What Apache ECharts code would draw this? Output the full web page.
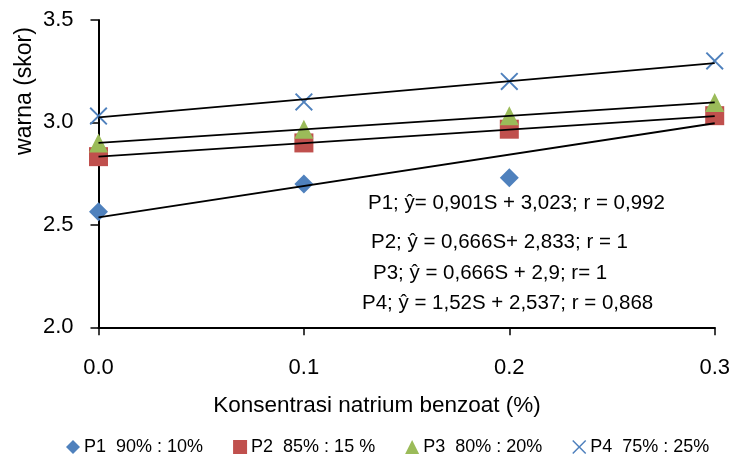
<!DOCTYPE html>
<html>
<head>
<meta charset="utf-8">
<script src="https://cdn.jsdelivr.net/npm/echarts@6/dist/echarts.min.js"></script>
<style>html,body{margin:0;padding:0;background:#fff}#c{width:733px;height:455px}</style>
</head>
<body>
<div id="c"></div>
<script>
// ---- data ----
const xValues = [0.0, 0.1, 0.2, 0.3];
const seriesNames = ['P1  90% : 10%', 'P2  85% : 15 %', 'P3  80% : 20%', 'P4  75% : 25%'];
const p1 = [2.564, 2.700, 2.730, 3.060];
const p2 = [2.833, 2.900, 2.967, 3.033];
const p3 = [2.900, 2.967, 3.033, 3.097];
const p4 = [3.031, 3.100, 3.200, 3.300];
// trendline values at S = 0.0 and S = 0.3
const trendX = [0.0, 0.3];
const trendStart = [2.537, 2.833, 2.900, 3.025];
const trendEnd = [2.996, 3.031, 3.098, 3.290];
const xTicks = [0.0, 0.1, 0.2, 0.3];
const yTicks = [2.0, 2.5, 3.0, 3.5];
const equations = [
  'P1; ŷ= 0,901S + 3,023; r = 0,992',
  'P2; ŷ = 0,666S+ 2,833; r = 1',
  'P3; ŷ = 0,666S + 2,9; r= 1',
  'P4; ŷ = 1,52S + 2,537; r = 0,868'
];
const xTitle = 'Konsentrasi natrium benzoat (%)';
const yTitle = 'warna (skor)';

// ---- styles ----
const FONT = '"Liberation Sans", Arial, sans-serif';
const colors = ['#4F81BD', '#C0504D', '#9BBB59', '#4F81BD'];
const d = 0.75;
const crossPath = 'path://M' + d + ',0L5,' + (5 - d) + 'L' + (10 - d) + ',0L10,' + d + 'L' + (5 + d) + ',5L10,' + (10 - d) +
  'L' + (10 - d) + ',10L5,' + (5 + d) + 'L' + d + ',10L0,' + (10 - d) + 'L' + (5 - d) + ',5L0,' + d + 'Z';
const symbols = ['diamond', 'rect', 'triangle', crossPath];
const symbolSizes = [19, 19, 19, 18];
const pointSets = [p1, p2, p3, p4];

const series = [];
pointSets.forEach((vals, i) => {
  series.push({
    name: seriesNames[i],
    type: 'scatter',
    data: xValues.map((x, j) => [x, vals[j]]),
    symbol: symbols[i],
    symbolSize: symbolSizes[i],
    itemStyle: { color: colors[i], opacity: 1 },
    z: 2,
    silent: true
  });
});
pointSets.forEach((vals, i) => {
  series.push({
    type: 'line',
    data: [[trendX[0], trendStart[i]], [trendX[1], trendEnd[i]]],
    showSymbol: false,
    symbol: 'none',
    lineStyle: { color: '#000', width: 1.8 },
    z: 5,
    silent: true
  });
});

const eqPos = [[368, 205], [371, 244], [373, 275], [362, 305]];
const graphics = equations.map((t, i) => ({
  type: 'text',
  left: eqPos[i][0],
  top: eqPos[i][1] - 12,
  style: { text: t, font: '20.5px ' + FONT, fill: '#000', textVerticalAlign: 'top' },
  z: 10
}));
graphics.push({
  type: 'text',
  x: 25, y: 91, rotation: Math.PI / 2,
  style: { text: yTitle, font: '23px ' + FONT, fill: '#000', align: 'center', verticalAlign: 'middle' },
  z: 10
});
graphics.push({
  type: 'text',
  x: 377, y: 406,
  style: { text: xTitle, font: '22.5px ' + FONT, fill: '#000', align: 'center', verticalAlign: 'middle' },
  z: 10
});

const chart = echarts.init(document.getElementById('c'), null, { renderer: 'canvas' });
chart.setOption({
  animation: false,
  backgroundColor: '#fff',
  grid: { left: 98.5, right: 17, top: 20, bottom: 127.7, containLabel: false },
  xAxis: {
    type: 'value', min: xTicks[0], max: xTicks[xTicks.length - 1], interval: 0.1,
    axisLine: { show: true, onZero: false, lineStyle: { color: '#000', width: 2 } },
    axisTick: { show: true, length: 8, lineStyle: { color: '#000', width: 1.5 } },
    splitLine: { show: false },
    axisLabel: { margin: 30, fontSize: 22, fontFamily: FONT, color: '#000', formatter: v => v.toFixed(1) }
  },
  yAxis: {
    type: 'value', min: yTicks[0], max: yTicks[yTicks.length - 1], interval: 0.5,
    axisLine: { show: true, onZero: false, lineStyle: { color: '#000', width: 2 } },
    axisTick: { show: true, length: 8, lineStyle: { color: '#000', width: 1.5 } },
    splitLine: { show: false },
    axisLabel: { margin: 25, fontSize: 22, fontFamily: FONT, color: '#000', formatter: v => v.toFixed(1) }
  },
  legend: {
    data: seriesNames.map((n, i) => ({ name: n, icon: symbols[i], itemStyle: { color: colors[i] } })),
    left: 61, top: 433,
    itemWidth: 14, itemHeight: 14, itemGap: 30,
    textStyle: { fontSize: 18, fontFamily: FONT, color: '#000', padding: [0, 0, 0, -1] },
    selectedMode: false
  },
  series: series,
  graphic: graphics
});
</script>
</body>
</html>
